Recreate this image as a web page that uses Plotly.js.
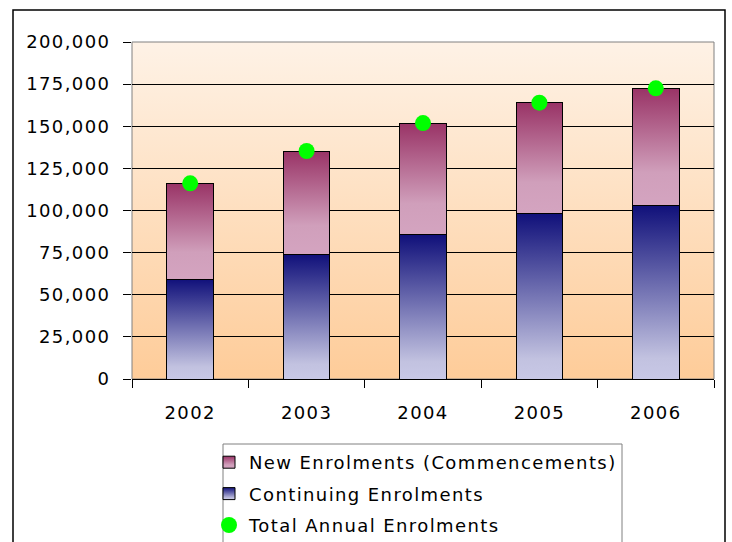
<!DOCTYPE html>
<html>
<head>
<meta charset="utf-8">
<script src="https://cdn.plot.ly/plotly-3.0.1.min.js"></script>
<style>
  html, body { margin: 0; padding: 0; background: #fff; }
  #chart { width: 732px; height: 542px; }
  svg text { letter-spacing: 1.4px; }
</style>
</head>
<body>
<div id="chart"></div>
<script>
// Data
const years = ['2002', '2003', '2004', '2005', '2006'];
const continuingEnrolments = [59300, 74000, 85500, 98300, 103100];
const newEnrolments = [56800, 61300, 66400, 65700, 69400];
const totalEnrolments = [116100, 135300, 151900, 164000, 172500];
const seriesNames = ['New Enrolments (Commencements)', 'Continuing Enrolments', 'Total Annual Enrolments'];

const FONT = 'DejaVu Sans, Liberation Sans, Arial, sans-serif';

const traces = [
  {
    type: 'bar', name: seriesNames[1], x: years, y: continuingEnrolments,
    marker: { color: '#6a6aa6', line: { color: '#000', width: 1 } },
    legendrank: 2, legendgroup: 'b', hoverinfo: 'skip'
  },
  {
    type: 'bar', name: seriesNames[0], x: years, y: newEnrolments,
    marker: { color: '#b97096', line: { color: '#000', width: 1 } },
    legendrank: 1, legendgroup: 'a', hoverinfo: 'skip'
  },
  {
    type: 'scatter', mode: 'markers', name: seriesNames[2], x: years, y: totalEnrolments,
    marker: { color: '#00FF00', size: 16, line: { width: 0 } },
    cliponaxis: false, legendrank: 3, legendgroup: 'c', hoverinfo: 'skip'
  }
];

const plotL = 132, plotR = 714, plotT = 42, plotB = 379;
const pw = plotR - plotL, ph = plotB - plotT;
const px = v => (v - plotL) / pw;
const py = v => (plotB - v) / ph;

const layout = {
  width: 732, height: 542,
  margin: { l: plotL, r: 732 - plotR, t: plotT, b: 542 - plotB, pad: 0, autoexpand: false },
  paper_bgcolor: '#ffffff',
  plot_bgcolor: '#fee0c0',
  barmode: 'stack',
  bargap: 0.6,
  font: { family: FONT, size: 18, color: '#000' },
  showlegend: true,
  xaxis: {
    type: 'category', tickson: 'boundaries', ticks: 'outside', ticklen: 8,
    tickcolor: '#000', showline: true, linecolor: '#000', linewidth: 1,
    showgrid: false, zeroline: false, ticklabelstandoff: 17,
    tickfont: { family: FONT, size: 18, color: '#000' }, fixedrange: true
  },
  yaxis: {
    range: [0, 200000], dtick: 25000, tick0: 0, tickformat: ',d',
    ticks: 'outside', ticklen: 8, tickcolor: '#000', showline: false,
    showgrid: true, gridcolor: '#000', gridwidth: 1, zeroline: false,
    ticklabelstandoff: 9,
    tickfont: { family: FONT, size: 18, color: '#000' }, fixedrange: true
  },
  legend: {
    x: px(209), y: py(444), xanchor: 'left', yanchor: 'top',
    bgcolor: 'rgba(0,0,0,0)', borderwidth: 0,
    font: { family: FONT, size: 18, color: '#000' },
    traceorder: 'grouped', tracegroupgap: 5, orientation: 'v'
  },
  shapes: [
    { type: 'rect', xref: 'paper', yref: 'paper', x0: px(13), x1: px(725), y0: py(600), y1: py(10),
      line: { color: '#000', width: 1.5 }, fillcolor: 'rgba(0,0,0,0)', layer: 'below' },
    { type: 'rect', xref: 'paper', yref: 'paper', x0: 0, x1: 1, y0: 0, y1: 1,
      line: { color: '#808080', width: 1 }, fillcolor: 'rgba(0,0,0,0)', layer: 'between' },
    { type: 'rect', xref: 'paper', yref: 'paper', x0: px(223), x1: px(622), y0: py(560), y1: py(444),
      line: { color: '#808080', width: 1 }, fillcolor: '#ffffff', layer: 'above' }
  ]
};

Plotly.newPlot('chart', traces, layout, { staticPlot: true, displayModeBar: false }).then(gd => {
  const ns = 'http://www.w3.org/2000/svg';
  const svg = gd.querySelector('svg.main-svg');
  let defs = svg.querySelector('defs');
  if (!defs) { defs = document.createElementNS(ns, 'defs'); svg.insertBefore(defs, svg.firstChild); }
  function grad(id, stops) {
    const lg = document.createElementNS(ns, 'linearGradient');
    lg.setAttribute('id', id);
    lg.setAttribute('x1', '0'); lg.setAttribute('y1', '0');
    lg.setAttribute('x2', '0'); lg.setAttribute('y2', '1');
    stops.forEach(([o, c]) => {
      const s = document.createElementNS(ns, 'stop');
      s.setAttribute('offset', o); s.setAttribute('stop-color', c);
      lg.appendChild(s);
    });
    defs.appendChild(lg);
  }
  grad('gradBg', [[0, '#fef2e6'], [1, '#fecc99']]);
  grad('gradNew', [[0, '#993366'], [0.72, '#d09fbb'], [1, '#d4a4c0']]);
  grad('gradCont', [[0, '#10107a'], [0.88, '#c2c2e0'], [1, '#c8c8e6']]);

  const bg = gd.querySelector('.bglayer rect.bg');
  if (bg) bg.style.fill = 'url(#gradBg)';

  const gradFor = name => name === seriesNames[0] ? 'url(#gradNew)' :
                          name === seriesNames[1] ? 'url(#gradCont)' : null;
  gd.querySelectorAll('.trace.bars').forEach(tr => {
    const d = tr.__data__;
    const name = d && d[0] && d[0].trace ? d[0].trace.name : null;
    const g = gradFor(name);
    if (g) tr.querySelectorAll('path').forEach(p => { p.style.fill = g; });
  });
  gd.querySelectorAll('.legend .traces').forEach(tr => {
    const d = tr.__data__;
    const name = d && d[0] && d[0].trace ? d[0].trace.name : null;
    const g = gradFor(name);
    if (g) tr.querySelectorAll('.legendpoints path').forEach(p => { p.style.fill = g; });
  });
});
</script>
</body>
</html>
